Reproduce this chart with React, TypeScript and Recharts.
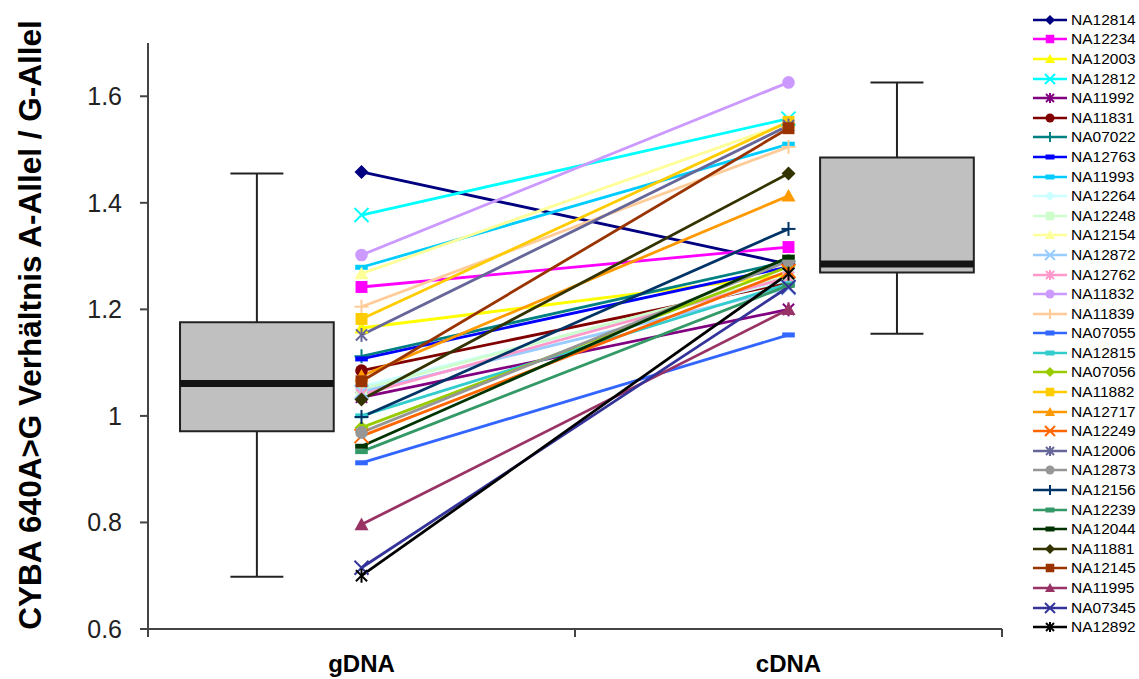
import React from 'react';
import { ComposedChart, Line, XAxis, YAxis, ReferenceArea, ReferenceLine, Label } from 'recharts';

// samples, in legend order
const samples = [
  'NA12814', 'NA12234', 'NA12003', 'NA12812', 'NA11992', 'NA11831', 'NA07022', 'NA12763',
  'NA11993', 'NA12264', 'NA12248', 'NA12154', 'NA12872', 'NA12762', 'NA11832', 'NA11839',
  'NA07055', 'NA12815', 'NA07056', 'NA11882', 'NA12717', 'NA12249', 'NA12006', 'NA12873',
  'NA12156', 'NA12239', 'NA12044', 'NA11881', 'NA12145', 'NA11995', 'NA07345', 'NA12892',
];

// A/G allele ratio per sample
const gDNA = [
  1.458, 1.242, 1.165, 1.377, 1.035, 1.085, 1.112, 1.107,
  1.279, 1.055, 1.050, 1.267, 1.045, 1.040, 1.302, 1.205,
  0.912, 1.000, 0.978, 1.182, 1.075, 0.962, 1.152, 0.969,
  0.998, 0.933, 0.943, 1.031, 1.065, 0.796, 0.715, 0.700,
];
const cDNA = [
  1.285, 1.317, 1.265, 1.558, 1.200, 1.250, 1.290, 1.280,
  1.510, 1.255, 1.262, 1.550, 1.240, 1.260, 1.626, 1.505,
  1.152, 1.248, 1.280, 1.552, 1.413, 1.272, 1.545, 1.291,
  1.351, 1.245, 1.298, 1.455, 1.540, 1.200, 1.242, 1.267,
];

const colors = [
  '#000080', '#ff00ff', '#ffff00', '#00ffff', '#800080', '#800000', '#008080', '#0000ff',
  '#00ccff', '#ccffff', '#ccffcc', '#ffff99', '#99ccff', '#ff99cc', '#cc99ff', '#ffcc99',
  '#3366ff', '#33cccc', '#99cc00', '#ffcc00', '#ff9900', '#ff6600', '#666699', '#969696',
  '#003366', '#339966', '#003300', '#333300', '#993300', '#993366', '#333399', '#000000',
];

const markers = [
  'diamond', 'square', 'triangle', 'x', 'star', 'circle', 'plus', 'dash',
  'dash', 'diamond', 'square', 'triangle', 'x', 'star', 'circle', 'plus',
  'dash', 'dash', 'diamond', 'square', 'triangle', 'x', 'star', 'circle',
  'plus', 'dash', 'dash', 'diamond', 'square', 'triangle', 'x', 'star',
];

const categories = ['gDNA', 'cDNA'];
const categoryX = [0.5, 1.5];

// box plots: [min, q1, median, q3, max]
const gDNABox = [0.698, 0.971, 1.061, 1.176, 1.455];
const cDNABox = [1.154, 1.269, 1.285, 1.485, 1.626];
const boxX = [0.255, 1.754];

const yTicks = [0.6, 0.8, 1, 1.2, 1.4, 1.6];

const data = categoryX.map((x, i) => {
  const row: any = { x };
  samples.forEach((s, j) => {
    row[s] = i === 0 ? gDNA[j] : cDNA[j];
  });
  return row;
});

const FONT = "'Liberation Sans', Arial, sans-serif";

function Marker({ type, color, cx, cy, s }: any) {
  switch (type) {
    case 'diamond':
      return <polygon points={`${cx},${cy - s} ${cx + s},${cy} ${cx},${cy + s} ${cx - s},${cy}`} fill={color} />;
    case 'square':
      return <rect x={cx - s * 0.85} y={cy - s * 0.85} width={s * 1.7} height={s * 1.7} fill={color} />;
    case 'triangle':
      return <polygon points={`${cx},${cy - s} ${cx + s},${cy + s * 0.8} ${cx - s},${cy + s * 0.8}`} fill={color} />;
    case 'circle':
      return <circle cx={cx} cy={cy} r={s * 0.9} fill={color} />;
    case 'x':
      return (
        <g stroke={color} strokeWidth={2}>
          <line x1={cx - s} y1={cy - s} x2={cx + s} y2={cy + s} />
          <line x1={cx - s} y1={cy + s} x2={cx + s} y2={cy - s} />
        </g>
      );
    case 'star':
      return (
        <g stroke={color} strokeWidth={2}>
          <line x1={cx - s * 0.8} y1={cy - s * 0.8} x2={cx + s * 0.8} y2={cy + s * 0.8} />
          <line x1={cx - s * 0.8} y1={cy + s * 0.8} x2={cx + s * 0.8} y2={cy - s * 0.8} />
          <line x1={cx} y1={cy - s} x2={cx} y2={cy + s} />
        </g>
      );
    case 'plus':
      return (
        <g stroke={color} strokeWidth={2}>
          <line x1={cx - s} y1={cy} x2={cx + s} y2={cy} />
          <line x1={cx} y1={cy - s} x2={cx} y2={cy + s} />
        </g>
      );
    default:
      return <rect x={cx - s * 0.9} y={cy - 2.5} width={s * 1.8} height={5} fill={color} />;
  }
}

function renderBox(stats: number[], c: number, key: string) {
  const [min, q1, med, q3, max] = stats;
  const hw = 0.18;
  const cap = 0.062;
  return [
    <ReferenceLine key={key + 'w1'} segment={[{ x: c, y: q3 }, { x: c, y: max }]} stroke="#222" strokeWidth={2} />,
    <ReferenceLine key={key + 'w2'} segment={[{ x: c, y: min }, { x: c, y: q1 }]} stroke="#222" strokeWidth={2} />,
    <ReferenceLine key={key + 'c1'} segment={[{ x: c - cap, y: max }, { x: c + cap, y: max }]} stroke="#222" strokeWidth={2} />,
    <ReferenceLine key={key + 'c2'} segment={[{ x: c - cap, y: min }, { x: c + cap, y: min }]} stroke="#222" strokeWidth={2} />,
    <ReferenceArea key={key + 'b'} x1={c - hw} x2={c + hw} y1={q1} y2={q3} fill="#c0c0c0" fillOpacity={1} stroke="#222" strokeWidth={2} />,
    <ReferenceLine key={key + 'm'} segment={[{ x: c - hw, y: med }, { x: c + hw, y: med }]} stroke="#141414" strokeWidth={7} />,
  ];
}

function YTitle({ viewBox }: any) {
  const x = viewBox.x + 30;
  const y = viewBox.y + viewBox.height / 2 - 11;
  return (
    <text x={x} y={y} transform={`rotate(-90 ${x} ${y})`} textAnchor="middle" dominantBaseline="central"
      fontFamily={FONT} fontWeight="bold" fontSize={31.5} fill="#000">
      CYBA 640A&gt;G Verhältnis A-Allel / G-Allel
    </text>
  );
}

export default function App() {
  return (
    <div style={{ position: 'absolute', left: 0, top: 0, width: 1139, height: 679, background: '#fff' }}>
      <ComposedChart width={1139} height={679} data={data} margin={{ top: 43, right: 137, bottom: 0, left: 0 }}>
        <XAxis xAxisId={0} dataKey="x" type="number" domain={[0, 2]} ticks={[0, 1, 2]} tickFormatter={() => ''}
          height={10} tickSize={8} axisLine={{ stroke: '#444', strokeWidth: 2 }} tickLine={{ stroke: '#444', strokeWidth: 2 }} />
        <XAxis xAxisId="lab" dataKey="x" type="number" domain={[0, 2]} ticks={categoryX}
          tickFormatter={(v: number) => categories[categoryX.indexOf(v)]}
          height={40} axisLine={false} tickLine={false} tickSize={0}
          tick={{ fill: '#000', fontSize: 24, fontWeight: 'bold', fontFamily: "'Liberation Sans Narrow', 'Arial Narrow', " + FONT, dy: 14 }} />
        <YAxis type="number" domain={[0.6, 1.7]} ticks={yTicks} tickFormatter={(v: number) => String(v)}
          width={148} tickSize={8} axisLine={{ stroke: '#444', strokeWidth: 2 }} tickLine={{ stroke: '#444', strokeWidth: 2 }}
          tick={{ fill: '#222', fontSize: 25, fontFamily: FONT, dx: -16 }}>
          <Label content={YTitle} />
        </YAxis>
        {renderBox(gDNABox, boxX[0], 'g')}
        {renderBox(cDNABox, boxX[1], 'c')}
        {samples.map((s, i) => (
          <Line key={s} dataKey={s} xAxisId={0} type="linear" stroke={colors[i]} strokeWidth={2.8}
            isAnimationActive={false}
            dot={(p: any) => <Marker key={s + p.index} type={markers[i]} color={colors[i]} cx={p.cx} cy={p.cy} s={7} />}
            activeDot={false} />
        ))}
      </ComposedChart>
      <div style={{ position: 'absolute', left: 1032, top: 10, fontFamily: FONT, fontSize: 15.5, color: '#000' }}>
        {samples.map((s, i) => (
          <div key={s} style={{ display: 'flex', alignItems: 'center', height: 19.6 }}>
            <svg width={36} height={16} style={{ marginRight: 3 }}>
              <line x1={1} y1={8} x2={35} y2={8} stroke={colors[i]} strokeWidth={2.5} />
              <Marker type={markers[i]} color={colors[i]} cx={18} cy={8} s={5} />
            </svg>
            <span>{s}</span>
          </div>
        ))}
      </div>
    </div>
  );
}
